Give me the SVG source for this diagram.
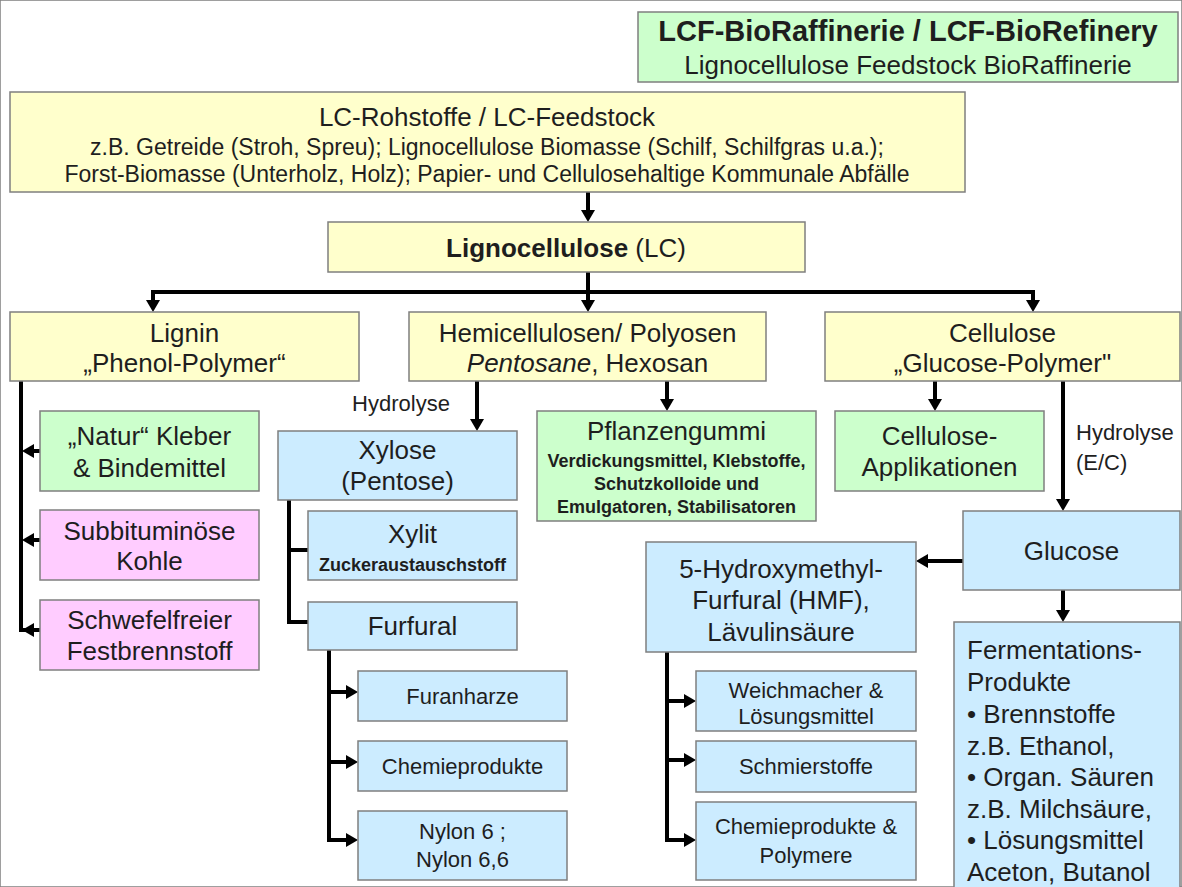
<svg xmlns="http://www.w3.org/2000/svg" width="1182" height="887" viewBox="0 0 1182 887">
<style>
  rect { stroke: #7f7f7f; stroke-width: 1.5; }
  .y { fill: #ffffcc; }
  .g { fill: #ccffcc; }
  .p { fill: #ffccff; }
  .b { fill: #ccecff; }
  text { font-family: "Liberation Sans", Arial, sans-serif; fill: #1e1e1e; text-anchor: middle; }
  .t26 { font-size: 26px; }
  .t23 { font-size: 23px; }
  .t22 { font-size: 22px; }
  .sm { font-size: 18px; font-weight: bold; }
  .st { text-anchor: start; }
  .c { stroke: #000; stroke-width: 4; fill: none; }
  .ca { stroke: #000; stroke-width: 4; fill: none; marker-end: url(#ah); }
</style>
<defs>
  <marker id="ah" markerUnits="userSpaceOnUse" markerWidth="14" markerHeight="14" refX="4" refY="7" orient="auto">
    <path d="M0,0 L12,7 L0,14 z" fill="#000"/>
  </marker>
</defs>
<rect width="1182" height="887" fill="#fff" stroke="none"/>

<g id="connectors">
  <line class="ca" x1="588" y1="192" x2="588" y2="214"/>
  <line class="c" x1="153" y1="292" x2="1033" y2="292" stroke-linecap="square"/>
  <line class="ca" x1="588" y1="272" x2="588" y2="304"/>
  <line class="ca" x1="153" y1="292" x2="153" y2="304"/>
  <line class="ca" x1="1033" y1="292" x2="1033" y2="304"/>
  <path class="c" d="M21,381 V630 H30"/>
  <line class="ca" x1="40" y1="451" x2="30" y2="451"/>
  <line class="ca" x1="40" y1="540" x2="30" y2="540"/>
  <line class="ca" x1="40" y1="630" x2="30" y2="630"/>
  <line class="ca" x1="477" y1="381" x2="477" y2="423"/>
  <line class="ca" x1="667" y1="381" x2="667" y2="403"/>
  <path class="c" d="M289,500 V622 H308"/>
  <line class="c" x1="289" y1="550" x2="308" y2="550"/>
  <path class="c" d="M329,650 V840 H340"/>
  <line class="ca" x1="327" y1="692" x2="350" y2="692"/>
  <line class="ca" x1="327" y1="762" x2="350" y2="762"/>
  <line class="ca" x1="327" y1="840" x2="350" y2="840"/>
  <line class="ca" x1="935" y1="381" x2="935" y2="403"/>
  <line class="ca" x1="1063" y1="381" x2="1063" y2="503"/>
  <line class="ca" x1="963" y1="561" x2="924" y2="561"/>
  <line class="ca" x1="1063" y1="590" x2="1063" y2="614"/>
  <path class="c" d="M667,652 V840 H680"/>
  <line class="ca" x1="665" y1="701" x2="688" y2="701"/>
  <line class="ca" x1="665" y1="760" x2="688" y2="760"/>
  <line class="ca" x1="665" y1="840" x2="688" y2="840"/>
</g>

<g id="title">
  <rect class="g" x="638" y="12" width="540" height="70"/>
  <text x="908" y="41" style="font-size:29px;font-weight:bold">LCF-BioRaffinerie / LCF-BioRefinery</text>
  <text class="t26" x="908" y="74">Lignocellulose Feedstock BioRaffinerie</text>
</g>

<g id="feedstock">
  <rect class="y" x="10" y="92" width="955" height="100"/>
  <text class="t26" x="487" y="126">LC-Rohstoffe / LC-Feedstock</text>
  <text class="t23" x="487" y="155">z.B. Getreide (Stroh, Spreu); Lignocellulose Biomasse (Schilf, Schilfgras u.a.);</text>
  <text class="t23" x="487" y="182">Forst-Biomasse (Unterholz, Holz); Papier- und Cellulosehaltige Kommunale Abfälle</text>
</g>

<g id="lignocellulose">
  <rect class="y" x="328" y="222" width="477" height="50"/>
  <text class="t26" x="566" y="257"><tspan font-weight="bold">Lignocellulose</tspan> (LC)</text>
</g>

<g id="lignin">
  <rect class="y" x="10" y="312" width="349" height="69"/>
  <text class="t26" x="184.5" y="342">Lignin</text>
  <text class="t26" x="184.5" y="372">„Phenol-Polymer“</text>
</g>

<g id="hemicellulosen">
  <rect class="y" x="409" y="312" width="357" height="69"/>
  <text class="t26" x="587.5" y="342">Hemicellulosen/ Polyosen</text>
  <text class="t26" x="587.5" y="372"><tspan font-style="italic">Pentosane</tspan>, Hexosan</text>
</g>

<g id="cellulose">
  <rect class="y" x="825" y="312" width="355" height="69"/>
  <text class="t26" x="1002.5" y="342">Cellulose</text>
  <text class="t26" x="1002.5" y="372">„Glucose-Polymer"</text>
</g>

<g id="natur">
  <rect class="g" x="40" y="411" width="219" height="80"/>
  <text class="t26" x="149.5" y="445">„Natur“ Kleber</text>
  <text class="t26" x="149.5" y="477">&amp; Bindemittel</text>
</g>

<g id="subbituminoese">
  <rect class="p" x="40" y="510" width="219" height="70"/>
  <text class="t26" x="149.5" y="540">Subbituminöse</text>
  <text class="t26" x="149.5" y="570">Kohle</text>
</g>

<g id="schwefelfrei">
  <rect class="p" x="40" y="600" width="219" height="70"/>
  <text class="t26" x="149.5" y="629">Schwefelfreier</text>
  <text class="t26" x="149.5" y="660">Festbrennstoff</text>
</g>

<g id="hydrolyse1">
  <text class="t22" x="401" y="411">Hydrolyse</text>
</g>

<g id="xylose">
  <rect class="b" x="278" y="431" width="239" height="69"/>
  <text class="t26" x="397.5" y="459">Xylose</text>
  <text class="t26" x="397.5" y="490">(Pentose)</text>
</g>

<g id="xylit">
  <rect class="b" x="308" y="511" width="209" height="69"/>
  <text class="t26" x="412.5" y="543">Xylit</text>
  <text class="sm" x="412.5" y="571">Zuckeraustauschstoff</text>
</g>

<g id="furfural">
  <rect class="b" x="308" y="602" width="209" height="48"/>
  <text class="t26" x="412.5" y="635">Furfural</text>
</g>

<g id="furanharze">
  <rect class="b" x="358" y="671" width="209" height="50"/>
  <text class="t22" x="462.5" y="704">Furanharze</text>
</g>

<g id="chemieprodukte1">
  <rect class="b" x="358" y="741" width="209" height="50"/>
  <text class="t22" x="462.5" y="774">Chemieprodukte</text>
</g>

<g id="nylon">
  <rect class="b" x="358" y="811" width="209" height="69"/>
  <text class="t22" x="462.5" y="839">Nylon 6 ;</text>
  <text class="t22" x="462.5" y="867">Nylon 6,6</text>
</g>

<g id="pflanzengummi">
  <rect class="g" x="537" y="411" width="279" height="110"/>
  <text class="t26" x="676.5" y="440">Pflanzengummi</text>
  <text class="sm" x="676.5" y="467">Verdickungsmittel, Klebstoffe,</text>
  <text class="sm" x="676.5" y="490">Schutzkolloide und</text>
  <text class="sm" x="676.5" y="513">Emulgatoren, Stabilisatoren</text>
</g>

<g id="cellulose-app">
  <rect class="g" x="835" y="411" width="209" height="80"/>
  <text class="t26" x="939.5" y="445">Cellulose-</text>
  <text class="t26" x="939.5" y="476">Applikationen</text>
</g>

<g id="hydrolyse2">
  <text class="t22 st" x="1076" y="440">Hydrolyse</text>
  <text class="t22 st" x="1076" y="470">(E/C)</text>
</g>

<g id="glucose">
  <rect class="b" x="963" y="511" width="217" height="79"/>
  <text class="t26" x="1071.5" y="560">Glucose</text>
</g>

<g id="hmf">
  <rect class="b" x="646" y="542" width="270" height="110"/>
  <text class="t26" x="781" y="578">5-Hydroxymethyl-</text>
  <text class="t26" x="781" y="609">Furfural (HMF),</text>
  <text class="t26" x="781" y="641">Lävulinsäure</text>
</g>

<g id="weichmacher">
  <rect class="b" x="696" y="671" width="220" height="60"/>
  <text class="t22" x="806" y="698">Weichmacher &amp;</text>
  <text class="t22" x="806" y="724">Lösungsmittel</text>
</g>

<g id="schmierstoffe">
  <rect class="b" x="696" y="741" width="220" height="51"/>
  <text class="t22" x="806" y="774">Schmierstoffe</text>
</g>

<g id="chemieprodukte2">
  <rect class="b" x="696" y="802" width="220" height="78"/>
  <text class="t22" x="806" y="834">Chemieprodukte &amp;</text>
  <text class="t22" x="806" y="863">Polymere</text>
</g>

<g id="fermentation">
  <rect class="b" x="954" y="622" width="226" height="280"/>
  <text class="t26 st" x="967" y="659">Fermentations-</text>
  <text class="t26 st" x="967" y="691">Produkte</text>
  <text class="t26 st" x="967" y="723">• Brennstoffe</text>
  <text class="t26 st" x="967" y="755">z.B. Ethanol,</text>
  <text class="t26 st" x="967" y="786">• Organ. Säuren</text>
  <text class="t26 st" x="967" y="818">z.B. Milchsäure,</text>
  <text class="t26 st" x="967" y="849">• Lösungsmittel</text>
  <text class="t26 st" x="967" y="881">Aceton, Butanol</text>
</g>
</svg>
